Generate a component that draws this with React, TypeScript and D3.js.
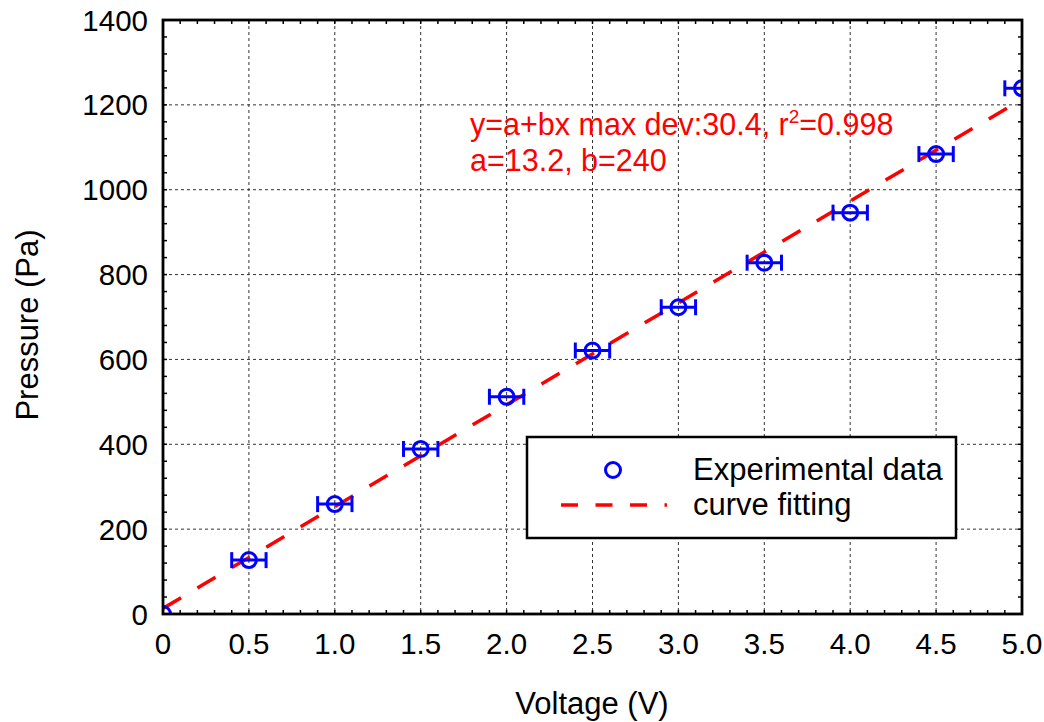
import React from "react";
import * as d3 from "d3";

const voltage = [0, 0.5, 1.0, 1.5, 2.0, 2.5, 3.0, 3.5, 4.0, 4.5, 5.0];
const pressure = [0, 127, 259, 389, 512, 621, 723, 828, 946, 1084, 1239];
const xErr = [0, 0.1, 0.1, 0.1, 0.1, 0.1, 0.1, 0.1, 0.1, 0.1, 0.1];
const fitA = 13.2;
const fitB = 240;
const xTicks = [0, 0.5, 1.0, 1.5, 2.0, 2.5, 3.0, 3.5, 4.0, 4.5, 5.0];
const yTicks = [0, 200, 400, 600, 800, 1000, 1200, 1400];
const legendLabels = ["Experimental data", "curve fitting"];

const W = 1044;
const H = 722;
const M = { left: 163, top: 20, right: 1022, bottom: 614 };
const FONT = "'Liberation Sans', Arial, Helvetica, sans-serif";

export default function App() {
  const x = d3.scaleLinear().domain([0, 5]).range([M.left, M.right]);
  const y = d3.scaleLinear().domain([0, 1400]).range([M.bottom, M.top]);
  const xMinor = d3.range(0, 5.0001, 0.1);
  const yMinor = d3.range(0, 1400.001, 40);
  const line = d3
    .line<number>()
    .x((v) => x(v))
    .y((v) => y(fitA + fitB * v));
  const tl = 4;
  return (
    <svg
      width={W}
      height={H}
      style={{ position: "absolute", left: 0, top: 0, background: "#fff" }}
      fontFamily={FONT}
    >
      <defs>
        <clipPath id="plot">
          <rect x={M.left} y={M.top} width={M.right - M.left} height={M.bottom - M.top} />
        </clipPath>
      </defs>
      <rect x={0} y={0} width={W} height={H} fill="#fff" />
      {/* grid */}
      <g stroke="#333" strokeWidth={1} strokeDasharray="3 3">
        {xTicks.slice(1, -1).map((t) => (
          <line key={"gx" + t} x1={x(t)} x2={x(t)} y1={M.top} y2={M.bottom} />
        ))}
        {yTicks.slice(1, -1).map((t) => (
          <line key={"gy" + t} x1={M.left} x2={M.right} y1={y(t)} y2={y(t)} />
        ))}
      </g>
      {/* minor ticks */}
      <g stroke="#000" strokeWidth={1.5}>
        {xMinor.map((t, i) => (
          <g key={"mx" + i}>
            <line x1={x(t)} x2={x(t)} y1={M.bottom} y2={M.bottom - tl} />
            <line x1={x(t)} x2={x(t)} y1={M.top} y2={M.top + tl} />
          </g>
        ))}
        {yMinor.map((t, i) => (
          <g key={"my" + i}>
            <line x1={M.left} x2={M.left + tl} y1={y(t)} y2={y(t)} />
            <line x1={M.right} x2={M.right - tl} y1={y(t)} y2={y(t)} />
          </g>
        ))}
      </g>
      {/* fit line */}
      <g clipPath="url(#plot)">
        <path
          d={line([0, 5]) || ""}
          fill="none"
          stroke="#ff0000"
          strokeWidth={3.5}
          strokeDasharray="21 19"
        />
        {/* points */}
        <g stroke="#0000ff" strokeWidth={3} fill="none">
          {voltage.map((v, i) => (
            <g key={"p" + i}>
              {xErr[i] > 0 && (
                <>
                  <line x1={x(v - xErr[i])} x2={x(v + xErr[i])} y1={y(pressure[i])} y2={y(pressure[i])} />
                  <line x1={x(v - xErr[i])} x2={x(v - xErr[i])} y1={y(pressure[i]) - 8} y2={y(pressure[i]) + 8} />
                  <line x1={x(v + xErr[i])} x2={x(v + xErr[i])} y1={y(pressure[i]) - 8} y2={y(pressure[i]) + 8} />
                </>
              )}
              <circle cx={x(v)} cy={y(pressure[i])} r={7.5} fill="none" />
            </g>
          ))}
        </g>
      </g>
      {/* frame */}
      <rect
        x={M.left}
        y={M.top}
        width={M.right - M.left}
        height={M.bottom - M.top}
        fill="none"
        stroke="#000"
        strokeWidth={2.8}
      />
      {/* tick labels */}
      <g fontSize={29.5} fill="#000">
        {xTicks.map((t) => (
          <text key={"xl" + t} x={x(t)} y={M.bottom + 40} textAnchor="middle">
            {t === 0 ? "0" : d3.format(".1f")(t)}
          </text>
        ))}
        {yTicks.map((t) => (
          <text key={"yl" + t} x={M.left - 15} y={y(t) + 10.5} textAnchor="end">
            {t}
          </text>
        ))}
      </g>
      {/* axis titles */}
      <text x={592} y={714} textAnchor="middle" fontSize={31}>
        Voltage (V)
      </text>
      <text
        transform={`translate(38, ${(M.top + M.bottom) / 2 + 8}) rotate(-90)`}
        textAnchor="middle"
        fontSize={31}
      >
        Pressure (Pa)
      </text>
      {/* annotation */}
      <g fill="#ff0000" fontSize={30.5}>
        <text x={470} y={135}>
          y=a+bx max dev:30.4, r
          <tspan dy={-12} fontSize={19}>2</tspan>
          <tspan dy={12}>=0.998</tspan>
        </text>
        <text x={470} y={171}>a=13.2, b=240</text>
      </g>
      {/* legend */}
      <rect x={527} y={437} width={429} height={101} fill="#fff" stroke="#000" strokeWidth={2.5} />
      <circle cx={613} cy={470} r={7.5} fill="none" stroke="#0000ff" strokeWidth={3} />
      <line x1={561} x2={667} y1={505} y2={505} stroke="#ff0000" strokeWidth={3.5} strokeDasharray="17 17.5" />
      <g fontSize={31} fill="#000">
        <text x={693} y={480}>{legendLabels[0]}</text>
        <text x={693} y={515}>{legendLabels[1]}</text>
      </g>
    </svg>
  );
}
